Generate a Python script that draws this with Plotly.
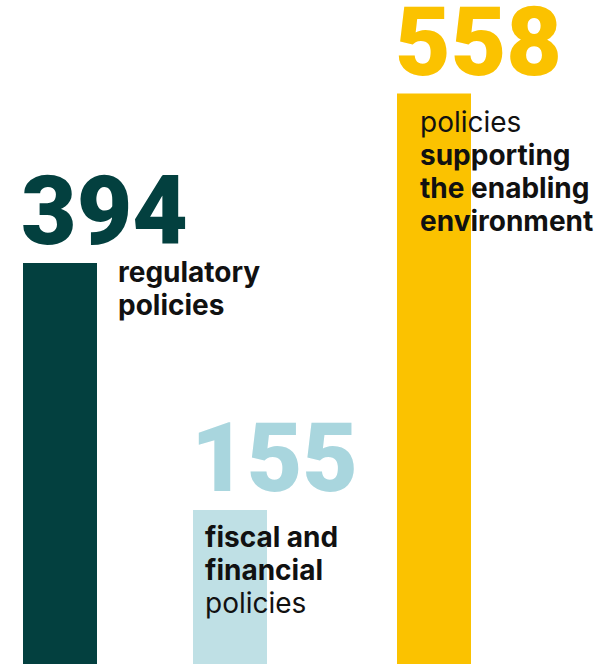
import plotly.graph_objects as go

# Policy counts by category
categories = ["regulatory", "fiscal", "enabling"]
counts = [394, 155, 558]

# Label text for each bar, one entry per line
label_lines = [
    ["<b>regulatory</b>", "<b>policies</b>"],
    ["<b>fiscal and</b>", "<b>financial</b>", "policies"],
    ["policies", "<b>supporting</b>", "<b>the enabling</b>", "<b>environment</b>"],
]

bar_colors = ["#03403F", "#BFE0E5", "#FBC200"]
number_colors = ["#03403F", "#A9D6DE", "#FBC200"]

# Layout geometry (pixels)
W, H = 600, 664
bar_left = [23, 193, 397]
bar_width = 74
px_per_unit = 1.033
baseline_below = 6  # zero line sits just under the bottom edge

y_min = baseline_below / px_per_unit
y_max = y_min + H / px_per_unit

label_offsets = [  # (x from bar left, first-line y below bar top)
    (93, 9),
    (10, 27),
    (21, 28),
]
line_gap = 33

fig = go.Figure()
fig.add_trace(go.Bar(
    x=[l + bar_width / 2 for l in bar_left],
    y=counts,
    width=bar_width,
    marker=dict(color=bar_colors, line=dict(width=0)),
    hoverinfo="skip",
))

annotations = []
for i, v in enumerate(counts):
    annotations.append(dict(
        x=bar_left[i] - 4, y=v, xref="x", yref="y",
        xanchor="left", yanchor="middle", yshift=52,
        text=str(v), showarrow=False,
        font=dict(family="Roboto", size=96, weight=900, color=number_colors[i]),
    ))
    dx, dy = label_offsets[i]
    for j, line in enumerate(label_lines[i]):
        annotations.append(dict(
            x=bar_left[i] + dx, y=v, xref="x", yref="y",
            xanchor="left", yanchor="middle", yshift=-(dy + j * line_gap),
            text=line, showarrow=False,
            font=dict(family="Inter", size=28, color="#111111"),
        ))

fig.update_layout(
    width=W, height=H,
    margin=dict(l=0, r=0, t=0, b=0),
    paper_bgcolor="white", plot_bgcolor="white",
    showlegend=False,
    xaxis=dict(range=[0, W], visible=False, fixedrange=True),
    yaxis=dict(range=[y_min, y_max], visible=False, fixedrange=True),
    annotations=annotations,
)

fig.write_html("out.html", config={"displayModeBar": False})
